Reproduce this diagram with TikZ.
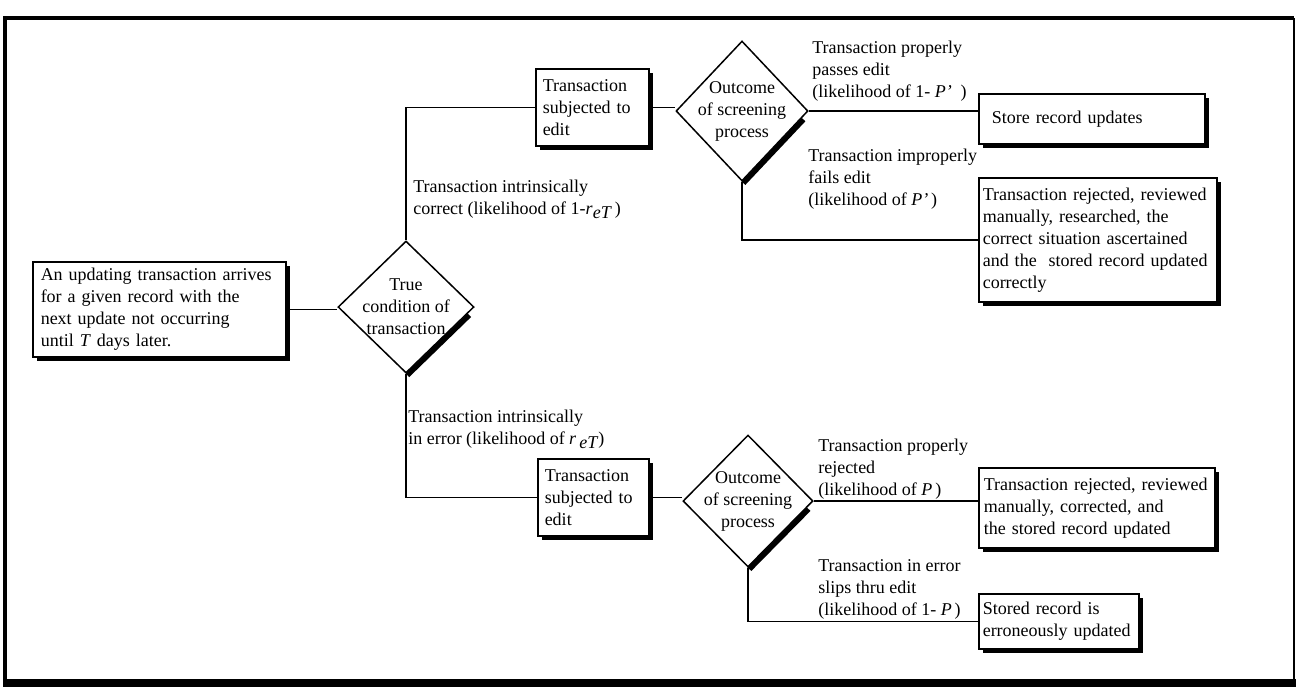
\documentclass[tikz,border=0pt]{standalone}
\usepackage{fontspec}
\setmainfont{Liberation Serif}
\usepackage{tikz}
\usetikzlibrary{shapes.geometric,shadows,calc}
\newlength\px
\setlength\px{0.75pt}

\begin{document}
\begin{tikzpicture}[
  x=1\px, y=-1\px,
  every node/.append style={font=\fontsize{13.5}{16.5}\selectfont},
  box/.style={draw, line width=1.5\px, fill=white, anchor=north west, align=left,
    inner xsep=6\px, inner ysep=0pt,
    drop shadow={shadow xshift=4\px, shadow yshift=-4\px, fill=black, opacity=1}},
  choice/.style={draw, shape=diamond, line width=1.5\px, fill=white, inner sep=0pt},
  shade/.style={line width=5\px},
  wire/.style={line width=1.5\px},
  lbl/.style={anchor=base west, align=left, inner sep=0pt}
]
\useasboundingbox (0,0) rectangle (1296,694);
% frame
\draw[line width=4\px] (5,682) -- (5,18) -- (1294,18);
\draw[line width=1.5\px] (1294,18) -- (1294,680);
\draw[line width=8\px] (3,683) -- (1296,683);

% boxes
\node[box, minimum width=253\px, minimum height=95\px, text width=237\px, inner xsep=8\px] (start) at (32,261)
  {An updating transaction arrives\\for a given record with the\\next update not occurring\\until \textit{T} days later.};
\node[box, minimum width=113\px, minimum height=77\px, text width=99\px, inner xsep=7\px] (edit1) at (535,68)
  {Transaction\\subjected to\\edit};
\node[box, minimum width=226\px, minimum height=50\px, text width=200\px, inner xsep=13\px] (store) at (978,93)
  {Store record updates};
\node[box, minimum width=238\px, minimum height=124\px, text width=230\px, inner xsep=4\px] (rej1) at (978,177)
  {Transaction rejected, reviewed\\manually, researched, the\\correct situation ascertained\\and the\ \ stored record updated\\correctly};
\node[box, minimum width=111\px, minimum height=77\px, text width=97\px, inner xsep=7\px] (edit2) at (537,458)
  {Transaction\\subjected to\\edit};
\node[box, minimum width=236\px, minimum height=80\px, text width=226\px, inner xsep=5\px] (rej2) at (978,467)
  {Transaction rejected, reviewed\\manually, corrected, and\\the stored record updated};
\node[box, minimum width=160\px, minimum height=55\px, text width=152\px, inner xsep=4\px] (stored) at (978,593)
  {Stored record is\\erroneously updated};

% decisions
\node[choice, minimum width=132\px, minimum height=140\px,
  label={[name=d2t, align=center]center:Outcome\\of screening\\process}] (d2) at (742,111) {};
\node[choice, minimum width=136\px, minimum height=132\px,
  label={[name=d1t, align=center]center:True\\condition of\\transaction}] (d1) at (406,307) {};
\node[choice, minimum width=130\px, minimum height=132\px,
  label={[name=d3t, align=center]center:Outcome\\of screening\\process}] (d3) at (748,501) {};
\foreach \d in {d1,d2,d3}
  \draw[shade] ([shift={(1.5,1.5)}]$(\d.south)!0.9!(\d.east)$) -- ([shift={(1.5,1.5)}]\d.south);

% connectors
\draw[wire] (start.east) -- (start.east -| d1.west);
\draw[wire] (d1.north) |- (edit1.west);
\draw[wire] (edit1.east) -- (edit1.east -| d2.west);
\draw[wire] (d2.east) -- (d2.east -| store.west);
\draw[wire] (d2.south) |- (rej1.west);
\draw[wire] (d1.south) |- (edit2.west);
\draw[wire] (edit2.east) -- (edit2.east -| d3.west);
\draw[wire] (d3.east) -- (d3.east -| rej2.west);
\draw[wire] (d3.south) |- (stored.west);

% branch texts
\node[lbl] (lcorrect) at (413,214) {Transaction intrinsically\\correct (likelihood of 1-\textit{r}\raisebox{-.5ex}{\textit{eT}}\,)};
\node[lbl] (lerror) at (408,444) {Transaction intrinsically\\in error (likelihood of \textit{r}\,\raisebox{-.5ex}{\textit{eT}})};
\node[lbl] (lpass) at (812,97) {Transaction properly\\passes edit\\(likelihood of 1- \textit{P’}\ \ )};
\node[lbl] (lfail) at (808,205) {Transaction improperly\\fails edit\\(likelihood of \textit{P’}\,)};
\node[lbl] (lrej) at (818,495) {Transaction properly\\rejected\\(likelihood of \textit{P}\,)};
\node[lbl] (lslip) at (818,615) {Transaction in error\\slips thru edit\\(likelihood of 1- \textit{P}\,)};
\end{tikzpicture}
\end{document}
